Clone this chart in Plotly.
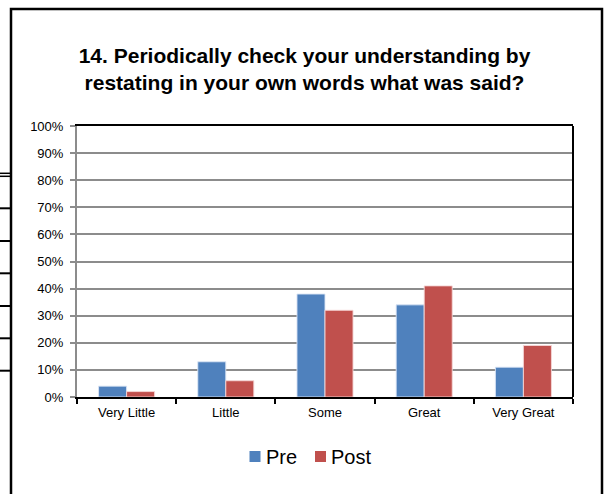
import plotly.graph_objects as go

# Survey item 14: share of responses per rating, before and after training
categories = ["Very Little", "Little", "Some", "Great", "Very Great"]
pre_values = [4, 13, 38, 34, 11]
post_values = [2, 6, 32, 41, 19]
series_names = ["Pre", "Post"]
series_colors = ["#4F81BD", "#C0504D"]
y_ticks = [0, 10, 20, 30, 40, 50, 60, 70, 80, 90, 100]
y_tick_labels = [f"{v}%" for v in y_ticks]

title_text = ("<b>14. Periodically check your understanding by<br>"
              "restating in your own words what was said?</b>")

W, H = 604, 494
# plot-area edges in pixels
L, R, T, B = 77, 573, 126, 397


def px_x(p):
    return (p - L) / (R - L)


def px_y(p):
    return (B - p) / (B - T)


FONT = "Liberation Sans, Arial, sans-serif"

fig = go.Figure()
for name, color, vals, edge in zip(series_names, series_colors,
                                   [pre_values, post_values],
                                   ["rgba(220,230,245,0.9)", "rgba(245,215,215,0.9)"]):
    fig.add_trace(go.Bar(
        name=name, x=categories, y=vals, showlegend=False,
        marker=dict(color=color, line=dict(color=edge, width=1)),
    ))

shapes = []
# outer chart frame
shapes.append(dict(type="rect", xref="paper", yref="paper",
                   x0=px_x(11), x1=px_x(602), y0=px_y(540), y1=px_y(9),
                   line=dict(color="black", width=2.5), fillcolor="rgba(0,0,0,0)"))
# plot-area right border
shapes.append(dict(type="line", xref="paper", yref="paper",
                   x0=1, x1=1, y0=0, y1=1, line=dict(color="black", width=2)))
# table rules behind the chart on the left edge
for yy, w in [(173.3, 1.5), (176.3, 1.5), (208.3, 2), (241, 2), (273.3, 2),
              (306, 2), (338.3, 2), (370.7, 2)]:
    shapes.append(dict(type="line", xref="paper", yref="paper",
                       x0=px_x(0), x1=px_x(11), y0=px_y(yy), y1=px_y(yy),
                       line=dict(color="black", width=w)))

# legend: colour swatch followed by series name
annotations = []
legend_items = [(249.5, 264.5), (315, 330)]
for (sx, tx), name, color in zip(legend_items, series_names, series_colors):
    shapes.append(dict(type="rect", xref="paper", yref="paper",
                       x0=px_x(sx), x1=px_x(sx + 11), y0=px_y(462), y1=px_y(451),
                       line=dict(width=0), fillcolor=color))
    annotations.append(dict(text=name, xref="paper", yref="paper",
                            x=px_x(tx), y=px_y(456.5), xanchor="left", yanchor="middle",
                            showarrow=False, borderpad=0,
                            font=dict(family=FONT, size=20, color="black")))

fig.update_layout(
    width=W, height=H,
    margin=dict(l=L, r=W - R, t=T, b=H - B, pad=0),
    paper_bgcolor="white", plot_bgcolor="white",
    font=dict(family=FONT, color="black", size=13),
    title=dict(text=title_text, x=304.5 / W, xanchor="center",
               y=1 - 63 / H, yanchor="middle", xref="container", yref="container",
               font=dict(family=FONT, size=21, color="black")),
    barmode="group", bargap=0.435, bargroupgap=0,
    showlegend=False,
    shapes=shapes,
    annotations=annotations,
)

fig.update_xaxes(
    type="category", showline=True, linecolor="black", linewidth=2,
    mirror=True, showgrid=False, ticks="outside", tickson="boundaries",
    ticklen=5, tickcolor="black", tickwidth=1.5, ticklabelstandoff=2,
    tickfont=dict(family=FONT, size=13, color="black"),
)
fig.update_yaxes(
    range=[0, 100], tickvals=y_ticks, ticktext=y_tick_labels,
    showline=True, linecolor="#8c8c8c", linewidth=2,
    showgrid=True, gridcolor="#8c8c8c", gridwidth=1.5, zeroline=False,
    ticks="outside", ticklen=5, tickcolor="#8c8c8c", tickwidth=1.5,
    ticklabelstandoff=4,
    tickfont=dict(family=FONT, size=13, color="black"),
)

fig.write_html("out.html")
